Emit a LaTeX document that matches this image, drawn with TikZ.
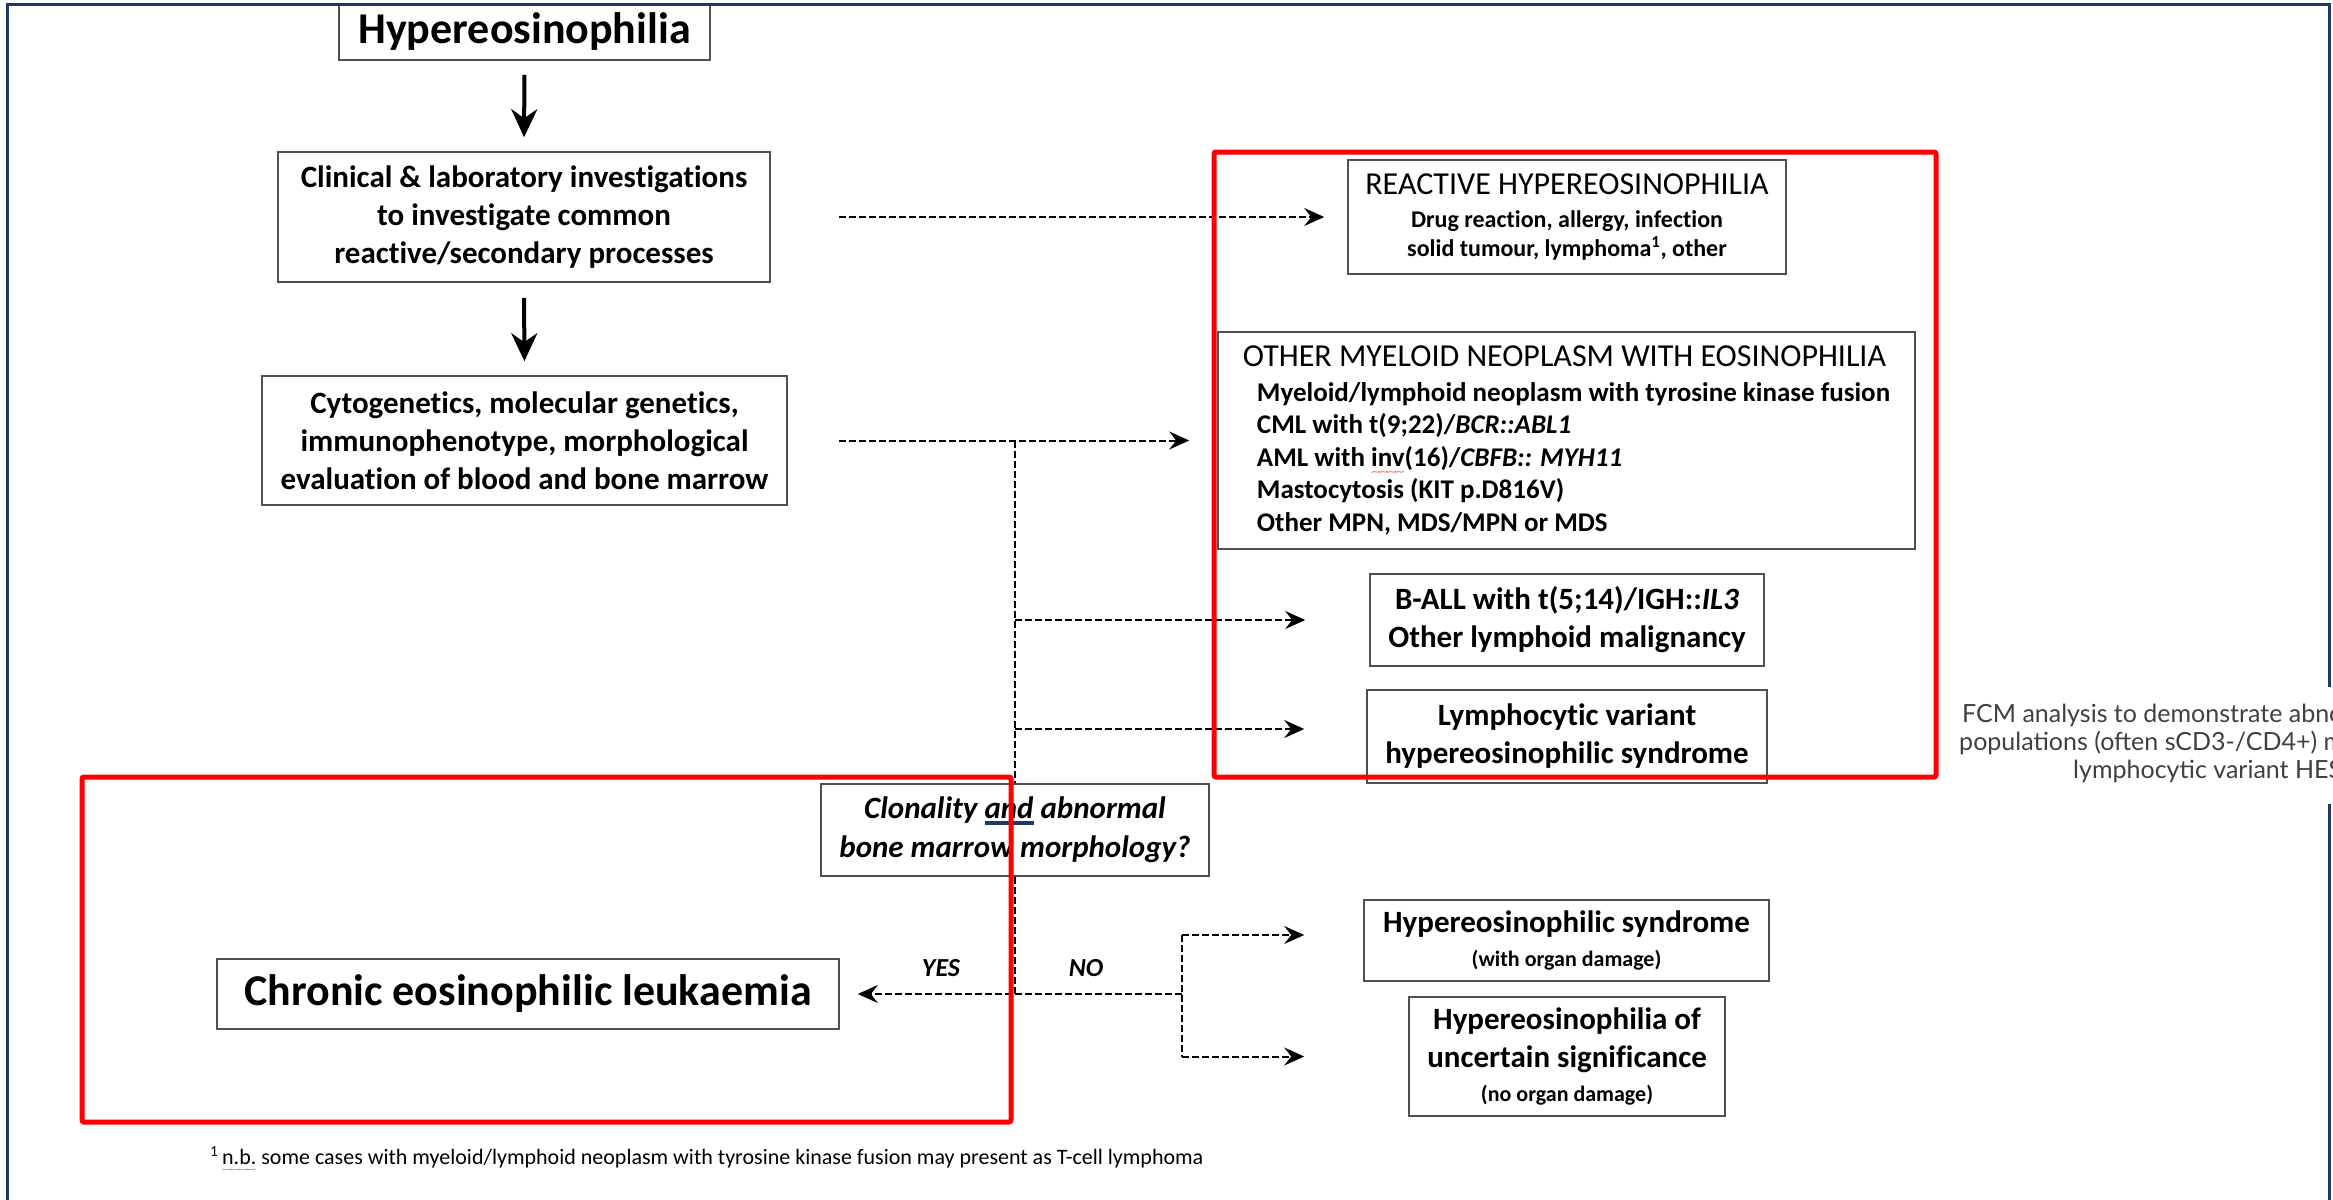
\documentclass[tikz,border=0pt]{standalone}
\usepackage{fontspec}
\usepackage{graphicx}
\setmainfont{Carlito}[Ligatures=NoCommon]
\newfontfamily\fcmfont{Lato}
\usetikzlibrary{arrows.meta}

\definecolor{framenavy}{RGB}{31,56,100}
\definecolor{boxgray}{RGB}{80,80,80}
\definecolor{notegray}{RGB}{64,64,64}

% red spell-check wave and blue bar under a word
\newcommand{\redwave}[1]{\setbox0\hbox{#1}\rlap{\color{red}\raisebox{-0.3em}{\resizebox{\wd0}{0.1em}{\mdseries\textasciitilde\kern-0.08em\textasciitilde\kern-0.08em\textasciitilde\kern-0.08em\textasciitilde}}}\box0\relax}
\newcommand{\andbar}[1]{\setbox0\hbox{#1}\rlap{\color{framenavy}\rule[-0.2em]{\wd0}{0.12em}}\box0\relax}

\begin{document}
\begin{tikzpicture}[x=1pt,y=-1pt,
	flowbox/.style={draw=boxgray,line width=1.6pt,inner sep=0pt,align=center},
	bigtext/.style={font={\bfseries\fontsize{44}{52}\selectfont}},
	midtext/.style={font={\bfseries\fontsize{31}{38}\selectfont}},
	flow/.style={line width=4pt,-{Stealth[length=28pt,width=26pt,inset=9pt]}},
	dashflow/.style={line width=2pt,dash pattern=on 7pt off 3pt,-{Stealth[length=20pt,width=18pt,inset=7pt]}},
	dashline/.style={line width=2pt,dash pattern=on 7pt off 3pt},
	redframe/.style={draw=red,line width=5pt,rounded corners=2pt},
	yesno/.style={font={\bfseries\itshape\fontsize{26}{30}\selectfont}},
	fcm/.style={font={\fcmfont\fontsize{25}{28}\selectfont},text=notegray,inner sep=0pt,anchor=west}]

	\path[use as bounding box,fill=white] (0,0) rectangle (2333,1199);

	%left column
	\node[flowbox,bigtext,minimum width=371pt,minimum height=56pt] (hyper) at (524.5,32) {Hypereosinophilia};
	\node[flowbox,midtext,minimum width=492pt,minimum height=130pt] (clin) at (524,217) {Clinical \& laboratory investigations\\to investigate common\\reactive/secondary processes};
	\node[flowbox,midtext,minimum width=525pt,minimum height=129pt] (cyto) at (524.5,440.5) {Cytogenetics, molecular genetics,\\immunophenotype, morphological\\evaluation of blood and bone marrow};
	\node[flowbox,font={\bfseries\itshape\fontsize{31}{39}\selectfont},minimum width=388pt,minimum height=92pt] (clon) at (1015,830) {Clonality \andbar{and} abnormal\\bone marrow morphology?};
	\node[flowbox,bigtext,minimum width=622pt,minimum height=70pt] (cel) at (528,994) {Chronic eosinophilic leukaemia};

	%right column
	\node[flowbox,font={\bfseries\fontsize{24}{29}\selectfont},minimum width=438pt,minimum height=114pt] (react) at (1567,217) {{\mdseries\fontsize{32}{38}\selectfont REACTIVE HYPEREOSINOPHILIA}\\[4pt]Drug reaction, allergy, infection\\solid tumour, lymphoma\textsuperscript{1}, other};
	\node[flowbox,align=left,font={\bfseries\fontsize{27}{32.5}\selectfont},minimum width=697pt,minimum height=217pt] (myelo) at (1566.5,440.5) {{\mdseries\fontsize{32}{38}\selectfont OTHER MYELOID NEOPLASM WITH EOSINOPHILIA}\\[2pt]
		\hspace*{14pt}Myeloid/lymphoid neoplasm with tyrosine kinase fusion\\
		\hspace*{14pt}CML with t(9;22)/\textit{BCR::ABL1}\\
		\hspace*{14pt}AML with \redwave{inv}(16)/\textit{CBFB:: MYH11}\\
		\hspace*{14pt}Mastocytosis (KIT p.D816V)\\
		\hspace*{14pt}Other MPN, MDS/MPN or MDS};
	\node[flowbox,midtext,minimum width=394pt,minimum height=92pt] (ball) at (1567,620) {B-ALL with t(5;14)/IGH::\textit{IL3}\\Other lymphoid malignancy};
	\node[flowbox,midtext,minimum width=400pt,minimum height=93pt] (lymph) at (1567,736.5) {Lymphocytic variant\\hypereosinophilic syndrome};
	\node[flowbox,midtext,minimum width=405pt,minimum height=81pt] (hes) at (1566.5,940.5) {Hypereosinophilic syndrome\\[-4pt]{\fontsize{22}{27}\selectfont (with organ damage)}};
	\node[flowbox,midtext,minimum width=316pt,minimum height=119pt] (hus) at (1567,1056.5) {Hypereosinophilia of\\uncertain significance\\[-4pt]{\fontsize{22}{27}\selectfont (no organ damage)}};

	%labels
	\node[yesno] (yes) at (941,968) {YES};
	\node[yesno] (no) at (1086,968) {NO};
	\node[fcm] (fcm1) at (1962,715) {FCM analysis to demonstrate abnormal};
	\node[fcm] (fcm2) at (1959,743) {populations (often sCD3-/CD4+) may};
	\node[fcm] (fcm3) at (2073,771) {lymphocytic variant HES};
	\node[anchor=west,inner sep=0pt,font={\fontsize{22}{26}\selectfont}] (note) at (210,1159) {\textsuperscript{1}\,\redwave{n.b.} some cases with myeloid/lymphoid neoplasm with tyrosine kinase fusion may present as T-cell lymphoma};

	%junctions
	\coordinate (j1) at (cyto.east -| clon.north);
	\coordinate (lymin) at ([yshift=7.5pt]lymph.west);
	\coordinate (nob) at (1182,994);
	\coordinate (hesin) at ([yshift=5.5pt]hes.west);

	%solid arrows
	\draw[flow,shorten <=14pt,shorten >=14pt] (hyper.south) -- (clin.north);
	\draw[flow,shorten <=15pt,shorten >=14pt] (clin.south) -- (cyto.north);

	%dashed arrows
	\draw[dashflow,shorten <=68pt,shorten >=23pt] (clin.east) -- (react.west);
	\draw[dashflow,shorten <=51pt,shorten >=28pt] (cyto.east) -- (myelo.west);
	\draw[dashline] (j1) -- (clon.north);
	\draw[dashflow,shorten >=64pt] (j1 |- ball.west) -- (ball.west);
	\draw[dashflow,shorten >=62pt] (j1 |- lymin) -- (lymin);
	\draw[dashline] (clon.south) -- (clon.south |- cel.east);
	\draw[dashflow,shorten >=18pt] (nob) -- (cel.east);
	\draw[dashline] (nob |- hesin) -- (nob |- hus.west);
	\draw[dashflow,shorten >=59pt] (nob |- hesin) -- (hesin);
	\draw[dashflow,shorten >=104pt] (nob |- hus.west) -- (hus.west);

	%red frames
	\draw[redframe] (1214,152) rectangle (1936,777);
	\draw[redframe] (82,777) rectangle (1011,1122);

	%outer frame
	\draw[framenavy,line width=3pt] (7,1210) -- (7,5) -- (2329,5) -- (2329,687);
	\draw[framenavy,line width=3pt] (2329,804) -- (2329,1210);
\end{tikzpicture}
\end{document}
